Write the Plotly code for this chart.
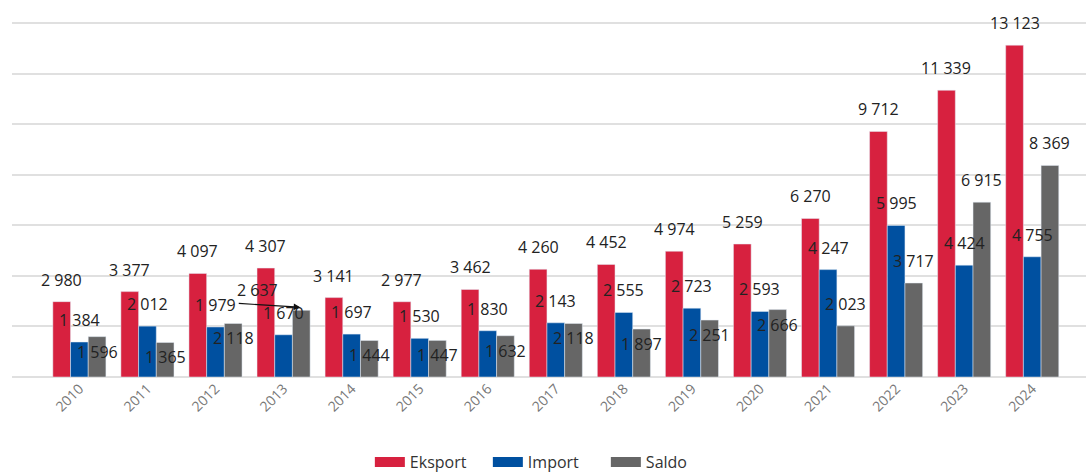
import plotly.graph_objects as go

years = list(range(2010, 2025))
year_labels = [str(y) for y in years]
eksport = [2980, 3377, 4097, 4307, 3141, 2977, 3462, 4260, 4452, 4974, 5259, 6270, 9712, 11339, 13123]
import_ = [1384, 2012, 1979, 1670, 1697, 1530, 1830, 2143, 2555, 2723, 2593, 4247, 5995, 4424, 4755]
saldo = [1596, 1365, 2118, 2637, 1444, 1447, 1632, 2118, 1897, 2251, 2666, 2023, 3717, 6915, 8369]
# where the Saldo label sits: inside the bar top, above it, or moved aside with an arrow
saldo_label_pos = ["in", "in", "in", "arrow", "in", "in", "in", "in", "in", "in", "in",
                   "out", "out", "out", "out"]

series_names = ["Eksport", "Import", "Saldo"]
colors = ["#d7213f", "#0050a0", "#666666"]

BARGAP = 0.22
BW = (1 - BARGAP) / 3
FONT = "Open Sans"


def fmt(v):
    return f"{v:,}".replace(",", " ")


fig = go.Figure()
for name, vals, col in zip(series_names, [eksport, import_, saldo], colors):
    fig.add_trace(go.Bar(x=years, y=vals, name=name, marker_color=col,
                         showlegend=False, hoverinfo="skip"))
# legend entries with wide swatches
for name, col in zip(series_names, colors):
    fig.add_trace(go.Scatter(x=[None], y=[None], mode="lines", name=name,
                             line=dict(color=col, width=12), showlegend=True))

ann = []
lab_font = dict(family=FONT, size=16, color="#222222")
for i, yr in enumerate(years):
    for k, vals in zip([-1, 0, 1], [eksport, import_, saldo]):
        v = vals[i]
        pos = "out"
        if k == 1:
            pos = saldo_label_pos[i]
        if pos == "out":
            ys = 22
        elif pos == "in":
            ys = -15
        else:
            # displaced label with leader arrow
            ann.append(dict(x=yr + k * BW, y=v, xref="x", yref="y", text=fmt(v),
                            showarrow=False, font=lab_font, xshift=-44, yshift=20,
                            yanchor="middle"))
            ann.append(dict(x=yr + k * BW, y=v, xref="x", yref="y", text="",
                            showarrow=True, ax=-63, ay=-4, arrowhead=2, arrowsize=1.1,
                            arrowwidth=1.2, arrowcolor="#111111", yshift=3, xshift=-1))
            continue
        ann.append(dict(x=yr + k * BW, y=v, xref="x", yref="y", text=fmt(v),
                        showarrow=False, font=lab_font, yshift=ys, yanchor="middle"))

ymax = 14000 * 377 / (377 - 23)

fig.update_layout(
    width=1086, height=472,
    margin=dict(l=12, r=0, t=0, b=95, autoexpand=False),
    paper_bgcolor="white", plot_bgcolor="white",
    barmode="group", bargap=BARGAP, bargroupgap=0,
    font=dict(family=FONT),
    xaxis=dict(range=[2010 - 0.99, 2024 + 0.79], tickvals=years, ticktext=year_labels,
               tickangle=-45, tickfont=dict(family=FONT, size=14, color="#777777"),
               showgrid=False, zeroline=False, showline=False, ticks="", automargin=False),
    yaxis=dict(range=[0, ymax], dtick=2000, showticklabels=False, showgrid=True,
               gridcolor="#e0e0e0", gridwidth=1.5, zeroline=True,
               zerolinecolor="#e0e0e0", zerolinewidth=2, ticks="", automargin=False),
    legend=dict(orientation="h", x=0.498, xanchor="center", y=-0.226, yanchor="middle",
                entrywidth=73, entrywidthmode="pixels",
                font=dict(family=FONT, size=16, color="#333333"), bgcolor="rgba(0,0,0,0)"),
    annotations=ann,
)

fig.write_html("out.html", config={"displayModeBar": False},
               post_script="document.body.style.margin='0';")
